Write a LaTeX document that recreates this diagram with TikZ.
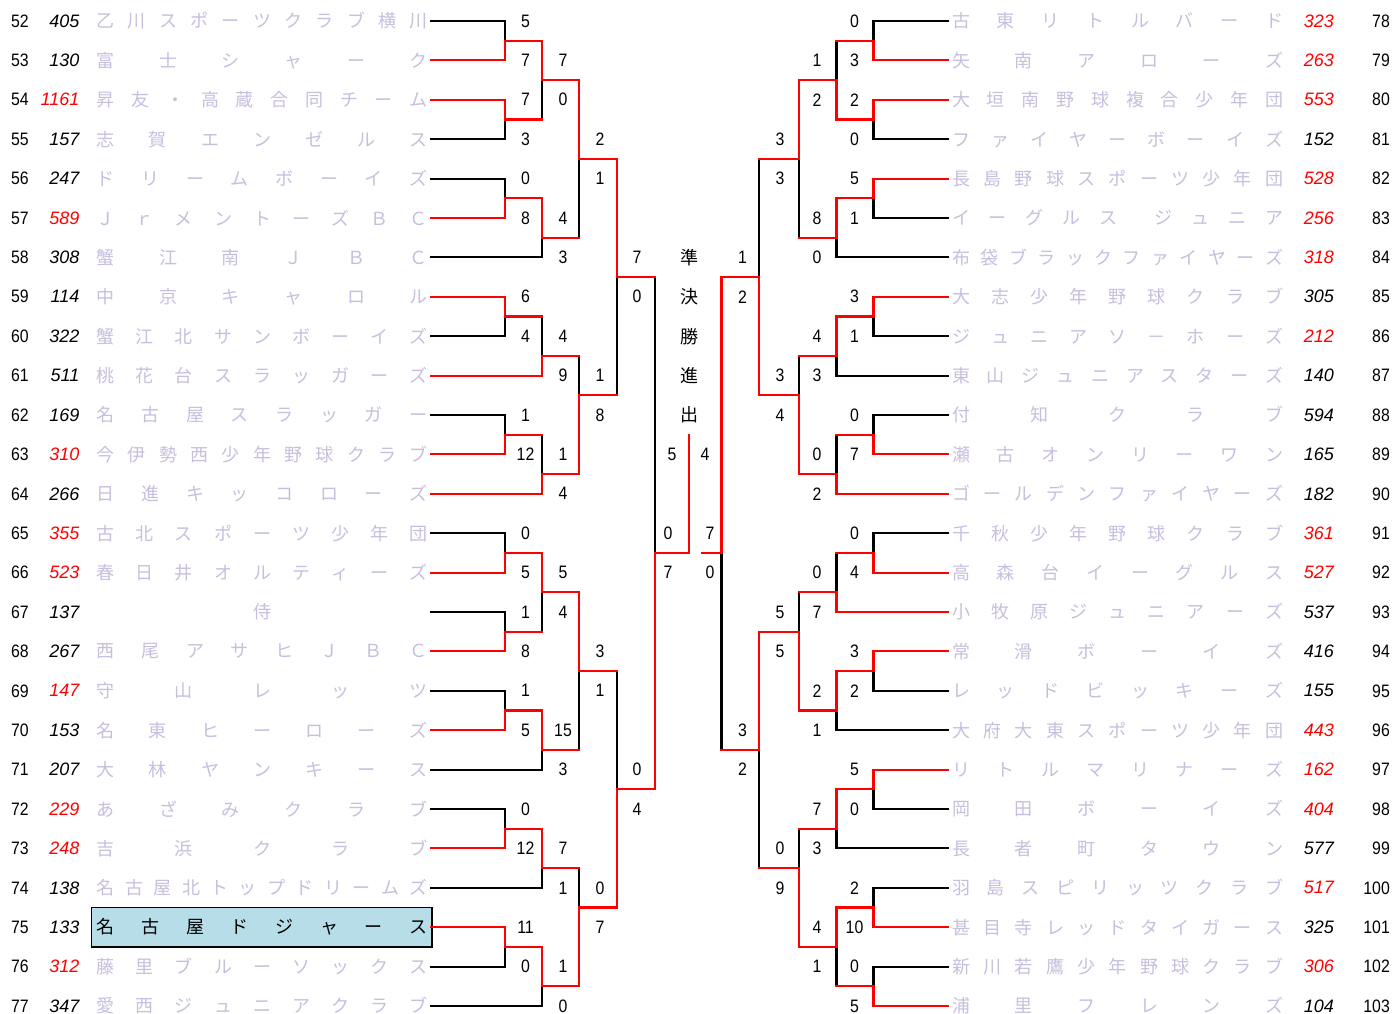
\documentclass[tikz,border=0pt]{standalone}
\usepackage{fontspec}
\setmainfont{Liberation Sans}
\newfontfamily\jpf{Noto Sans CJK JP}
\newfontfamily\numf[FakeStretch=0.88]{Liberation Sans}
\newfontfamily\codef{Liberation Sans}
\pgfdeclarelayer{bgw}
\pgfdeclarelayer{blk}
\pgfsetlayers{bgw,blk,main}
\definecolor{namec}{RGB}{200,190,222}
\definecolor{boxc}{RGB}{183,222,232}
\def\spreadchars#1{\spreadA#1\relax}
\def\spreadA#1{#1\spreadB}
\def\spreadB#1{\ifx#1\relax\else\hfill#1\expandafter\spreadB\fi}
\tikzset{
  bl/.style={line width=2.1pt, draw=black, line cap=rect},
  rl/.style={line width=2.1pt, draw=red, line cap=rect},
  numt/.style={inner sep=0pt, font=\numf\fontsize{18}{18}\selectfont},
  codet/.style={inner sep=0pt, anchor=east, font=\codef\itshape\fontsize{18}{18}\selectfont},
  namet/.style={inner sep=0pt, anchor=west, font=\jpf\fontsize{18}{18}\selectfont},
  semit/.style={inner sep=0pt, font=\jpf\fontsize{18}{18}\selectfont},
}
% team rows
\newcommand\lteam[6]{%
  \node[numt] (n#1) at (20,#2) {#1};
  \node[codet,text=#4] (c#1) at (79.5,#2) {#3};
  \node[namet,text=#5] (t#1) at (96.5,#2) {\hbox to 331pt{\spreadchars{#6}}};}
\newcommand\rteam[6]{%
  \node[numt,anchor=east] (n#1) at (1390,#2) {#1};
  \node[codet,text=#4] (c#1) at (1334,#2) {#3};
  \node[namet,text=#5] (t#1) at (952,#2) {\hbox to 331pt{\spreadchars{#6}}};}
% lines
\newcommand\tlb[3]{\begin{pgfonlayer}{blk}\draw[bl] (#1,#3) -- (#2,#3);\end{pgfonlayer}}
\newcommand\tlr[3]{\draw[rl] (#1,#3) -- (#2,#3);}
\newcommand\mt[5]{\begin{pgfonlayer}{blk}\draw[bl] (#1,#5) -- (#1,#4);\end{pgfonlayer}
  \draw[rl] (#1,#3) -- (#1,#5) -- (#2,#5);}
\newcommand\mb[5]{\begin{pgfonlayer}{blk}\draw[bl] (#1,#3) -- (#1,#5);\end{pgfonlayer}
  \draw[rl] (#1,#4) -- (#1,#5) -- (#2,#5);}
\begin{document}
\begin{tikzpicture}[x=1pt,y=-19.7pt]
\useasboundingbox (0,-1.06599) rectangle (1392,50.40609);
\begin{pgfonlayer}{bgw}
\fill[white] (0,-1.06599) rectangle (1392,50.40609);
\end{pgfonlayer}
% highlighted team box
\draw[line width=1.8pt, fill=boxc] (91.5,45) rectangle (432,47);
% left teams
\lteam{52}{0}{405}{black}{namec}{乙川スポーツクラブ横川}
\lteam{53}{2}{130}{black}{namec}{富士シャーク}
\lteam{54}{4}{1161}{red}{namec}{昇友・高蔵合同チーム}
\lteam{55}{6}{157}{black}{namec}{志賀エンゼルス}
\lteam{56}{8}{247}{black}{namec}{ドリームボーイズ}
\lteam{57}{10}{589}{red}{namec}{Ｊｒメントーズ ＢＣ}
\lteam{58}{12}{308}{black}{namec}{蟹江南ＪＢＣ}
\lteam{59}{14}{114}{black}{namec}{中京キャロル}
\lteam{60}{16}{322}{black}{namec}{蟹江北サンボーイズ}
\lteam{61}{18}{511}{black}{namec}{桃花台スラッガーズ}
\lteam{62}{20}{169}{black}{namec}{名古屋スラッガー}
\lteam{63}{22}{310}{red}{namec}{今伊勢西少年野球クラブ}
\lteam{64}{24}{266}{black}{namec}{日進キッコローズ}
\lteam{65}{26}{355}{red}{namec}{古北スポーツ少年団}
\lteam{66}{28}{523}{red}{namec}{春日井オルティーズ}
\lteam{67}{30}{137}{black}{namec}{{\hfill 侍\hfill}}
\lteam{68}{32}{267}{black}{namec}{西尾アサヒＪＢＣ}
\lteam{69}{34}{147}{red}{namec}{守山レッツ}
\lteam{70}{36}{153}{black}{namec}{名東ヒーローズ}
\lteam{71}{38}{207}{black}{namec}{大林ヤンキース}
\lteam{72}{40}{229}{red}{namec}{あざみクラブ}
\lteam{73}{42}{248}{red}{namec}{吉浜クラブ}
\lteam{74}{44}{138}{black}{namec}{名古屋北トップドリームズ}
\lteam{75}{46}{133}{black}{black}{名古屋ドジャース}
\lteam{76}{48}{312}{red}{namec}{藤里ブルーソックス}
\lteam{77}{50}{347}{black}{namec}{愛西ジュニアクラブ}
% right teams
\rteam{78}{0}{323}{red}{namec}{古東リトルバード}
\rteam{79}{2}{263}{red}{namec}{矢南アローズ}
\rteam{80}{4}{553}{red}{namec}{大垣南野球複合少年団}
\rteam{81}{6}{152}{black}{namec}{ファイヤーボーイズ}
\rteam{82}{8}{528}{red}{namec}{長島野球スポーツ少年団}
\rteam{83}{10}{256}{red}{namec}{イーグルス\empty ジュニア}
\rteam{84}{12}{318}{red}{namec}{布袋ブラックファイヤーズ}
\rteam{85}{14}{305}{black}{namec}{大志少年野球クラブ}
\rteam{86}{16}{212}{red}{namec}{ジュニアソ－ホーズ}
\rteam{87}{18}{140}{black}{namec}{東山ジュニアスターズ}
\rteam{88}{20}{594}{black}{namec}{付知クラブ}
\rteam{89}{22}{165}{black}{namec}{瀬古オンリーワン}
\rteam{90}{24}{182}{black}{namec}{ゴールデンファイヤーズ}
\rteam{91}{26}{361}{red}{namec}{千秋少年野球クラブ}
\rteam{92}{28}{527}{red}{namec}{高森台イーグルス}
\rteam{93}{30}{537}{black}{namec}{小牧原ジュニアーズ}
\rteam{94}{32}{416}{black}{namec}{常滑ボーイズ}
\rteam{95}{34}{155}{black}{namec}{レッドビッキーズ}
\rteam{96}{36}{443}{red}{namec}{大府大東スポーツ少年団}
\rteam{97}{38}{162}{red}{namec}{リトルマリナーズ}
\rteam{98}{40}{404}{red}{namec}{岡田ボーイズ}
\rteam{99}{42}{577}{black}{namec}{長者町タウン}
\rteam{100}{44}{517}{red}{namec}{羽島スピリッツクラブ}
\rteam{101}{46}{325}{black}{namec}{甚目寺レッドタイガース}
\rteam{102}{48}{306}{red}{namec}{新川若鷹少年野球クラブ}
\rteam{103}{50}{104}{black}{namec}{浦里フレンズ}
% left team lines
\foreach \k in {0,6,8,16,20,26,30,34,40,48} {\tlb{431}{505}{\k}}
\foreach \k in {2,4,10,14,22,28,32,36,42,46} {\tlr{431}{505}{\k}}
\foreach \k in {12,38,44,50} {\tlb{431}{542}{\k}}
\foreach \k in {18,24} {\tlr{431}{542}{\k}}
% right team lines
\foreach \k in {0,6,10,16,20,26,34,40,44,48} {\tlb{873.5}{948}{\k}}
\foreach \k in {2,4,8,14,22,28,32,38,46,50} {\tlr{873.5}{948}{\k}}
\foreach \k in {12,18,36,42} {\tlb{836.5}{948}{\k}}
\foreach \k in {24,30} {\tlr{836.5}{948}{\k}}
% left matches
\foreach \a/\b/\j in {0/2/1,8/10/9,20/22/21,26/28/27,30/32/31,34/36/35,40/42/41} {\mb{505}{542}{\a}{\b}{\j}}
\foreach \a/\b/\j in {4/6/5,14/16/15,46/48/47} {\mt{505}{542}{\a}{\b}{\j}}
\foreach \a/\b/\j in {1/5/3,9/12/11,27/31/29,35/38/37,41/44/43,47/50/49} {\mt{542}{579}{\a}{\b}{\j}}
\foreach \a/\b/\j in {15/18/17,21/24/23} {\mb{542}{579}{\a}{\b}{\j}}
\foreach \a/\b/\j in {3/11/7,29/37/33} {\mt{579}{617}{\a}{\b}{\j}}
\foreach \a/\b/\j in {17/23/19,43/49/45} {\mb{579}{617}{\a}{\b}{\j}}
\mt{617}{655}{7}{19}{13}
\mb{617}{655}{33}{45}{39}
\mb{655}{688.6}{13}{39}{27}
\draw[rl] (688.6,27) -- (688.6,21);
% right matches
\foreach \a/\b/\j in {0/2/1,20/22/21,26/28/27,44/46/45,48/50/49} {\mb{873.5}{836.5}{\a}{\b}{\j}}
\foreach \a/\b/\j in {4/6/5,8/10/9,14/16/15,32/34/33,38/40/39} {\mt{873.5}{836.5}{\a}{\b}{\j}}
\foreach \a/\b/\j in {1/5/3,21/24/23,27/30/29} {\mb{836.5}{799}{\a}{\b}{\j}}
\foreach \a/\b/\j in {9/12/11,15/18/17,33/36/35,39/42/41,45/49/47} {\mt{836.5}{799}{\a}{\b}{\j}}
\mt{799}{759}{3}{11}{7}
\foreach \a/\b/\j in {17/23/19,29/35/31,41/47/43} {\mb{799}{759}{\a}{\b}{\j}}
\mb{759}{721.5}{7}{19}{13}
\mt{759}{721.5}{31}{43}{37}
\mt{721.5}{702}{13}{37}{27}
% left scores
\foreach \k/\t in {0/5,2/7,4/7,6/3,8/0,10/8,14/6,16/4,20/1,22/12,26/0,28/5,30/1,32/8,34/1,36/5,40/0,42/12,46/11,48/0} {\node[numt] (sa\k) at (525.5,\k) {\t};}
\foreach \k/\t in {2/7,4/0,10/4,12/3,16/4,18/9,22/1,24/4,28/5,30/4,36/15,38/3,42/7,44/1,48/1,50/0} {\node[numt] (sb\k) at (563,\k) {\t};}
\foreach \k/\t in {6/2,8/1,18/1,20/8,32/3,34/1,44/0,46/7} {\node[numt] (sc\k) at (600,\k) {\t};}
\foreach \k/\t in {12/7,14/0,38/0,40/4} {\node[numt] (sd\k) at (637,\k) {\t};}
\foreach \k/\t in {26/0,28/7} {\node[numt] (se\k) at (668,\k) {\t};}
\node[numt] (sf) at (672,22) {5};
% right scores
\foreach \k/\t in {0/0,2/3,4/2,6/0,8/5,10/1,14/3,16/1,20/0,22/7,26/0,28/4,32/3,34/2,38/5,40/0,44/2,46/10,48/0,50/5} {\node[numt] (ra\k) at (854.5,\k) {\t};}
\foreach \k/\t in {2/1,4/2,10/8,12/0,16/4,18/3,22/0,24/2,28/0,30/7,34/2,36/1,40/7,42/3,46/4,48/1} {\node[numt] (rb\k) at (817,\k) {\t};}
\foreach \k/\t in {6/3,8/3,18/3,20/4,30/5,32/5,42/0,44/9} {\node[numt] (rc\k) at (780,\k) {\t};}
\foreach \k/\t in {12/1,14/2,36/3,38/2} {\node[numt] (rd\k) at (742.5,\k) {\t};}
\foreach \k/\t in {26/7,28/0} {\node[numt] (re\k) at (710,\k) {\t};}
\node[numt] (rf) at (705,22) {4};
% semifinal label
\foreach \k/\t in {12/準,14/決,16/勝,18/進,20/出} {\node[semit] (q\k) at (689,\k) {\t};}
\end{tikzpicture}
\end{document}
